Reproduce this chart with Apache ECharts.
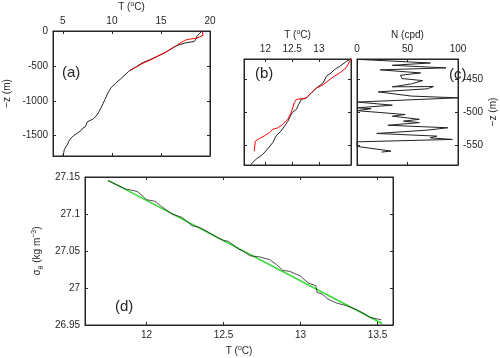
<!DOCTYPE html>
<html>
<head>
<meta charset="utf-8">
<script src="https://cdn.jsdelivr.net/npm/echarts@6/dist/echarts.min.js"></script>
<style>
  html, body { margin: 0; padding: 0; background: #fff; }
  #main { width: 500px; height: 358px; }
</style>
</head>
<body>
<div id="main"></div>
<script>
// panel (a): full profile, T vs -z
var aBlackT = [5.0, 5.1, 5.15, 5.3, 5.35, 5.5, 5.6, 5.75, 5.85, 6.1, 6.2, 6.5, 6.6, 6.9, 7.05, 7.3, 7.5, 7.8, 8.1, 8.3, 8.5, 8.7, 8.9, 9.1, 9.3, 9.6, 9.9, 10.4, 11.0, 11.8, 12.5, 13.05, 13.8, 14.6, 15.4, 16.2, 16.8, 17.5, 18.4, 18.6, 18.65, 18.9, 19.2];
var aBlackZ = [-1785, -1740, -1700, -1690, -1650, -1620, -1580, -1570, -1530, -1500, -1480, -1460, -1440, -1420, -1390, -1370, -1300, -1280, -1260, -1241, -1200, -1150, -1100, -1040, -980, -886, -815, -744, -673, -568, -510, -460, -415, -365, -310, -240, -200, -170, -150, -110, -80, -40, 0];
var aRedT = [11.85, 12.5, 13.2, 14.0, 14.6, 15.3, 15.9, 16.5, 17.0, 17.5, 18.0, 18.6, 19.3, 19.2];
var aRedZ = [-565, -515, -460, -410, -365, -318, -270, -215, -170, -130, -115, -105, -60, 0];

// panel (b): zoom of T between 420 and 580 m
var bBlackT = [11.73, 11.83, 11.95, 12.04, 12.14, 12.2, 12.29, 12.36, 12.42, 12.45, 12.5, 12.58, 12.62, 12.67, 12.76, 12.86, 12.95, 13.08, 13.14, 13.23, 13.29, 13.39, 13.51, 13.59];
var bBlackZ = [-579, -571, -564, -556, -546, -536, -529, -521, -514, -509, -501, -496, -489, -481, -479, -471, -464, -456, -446, -441, -436, -431, -424, -420];
var bRedT = [11.79, 11.81, 11.89, 11.98, 12.08, 12.14, 12.23, 12.32, 12.42, 12.48, 12.51, 12.54, 12.58, 12.67, 12.76, 12.86, 12.95, 13.08, 13.2, 13.29, 13.39, 13.51, 13.6];
var bRedZ = [-559, -544, -540, -536, -531, -526, -524, -519, -511, -501, -494, -486, -481, -480, -479, -471, -464, -459, -451, -446, -441, -433, -420];

// panel (c): buoyancy frequency
var cN = [0.3, 72.6, 35, 88, 23, 63, 43, 44.6, 65, 54, 35, 75.7, 69.5, 21, 54, 100, 0.3, 0, 35, 0, 14, 0, 0, 47.7, 35, 61.7, 46, 61.7, 30.6, 89.8, 69.5, 19.6, 79, 72.6, 94.4, 0, 0, 33.7, 24.3];
var cZ = [-420.5, -426, -429.5, -433.4, -436.4, -441, -444.6, -449.5, -452.6, -457.5, -462, -461.6, -465, -469.6, -476, -478.6, -485, -487.5, -489.7, -493.7, -495, -498, -498.8, -503.8, -506.3, -511, -513.8, -516, -520, -523.8, -527.4, -532.4, -536.4, -539, -541.4, -545, -552, -559, -560.5];

// panel (d): sigma_theta vs T and linear fit
var dT = [11.75, 11.864, 11.94, 12.0, 12.058, 12.09, 12.166, 12.23, 12.295, 12.338, 12.392, 12.457, 12.5, 12.532, 12.597, 12.625, 12.672, 12.737, 12.8, 12.845, 12.884, 12.93, 12.995, 13.05, 13.099, 13.107, 13.136, 13.178, 13.233, 13.297, 13.362, 13.405, 13.448, 13.523];
var dSigma = [27.145, 27.1338, 27.1305, 27.1193, 27.117, 27.1112, 27.100, 27.0954, 27.0842, 27.0824, 27.0765, 27.0684, 27.0643, 27.063, 27.0527, 27.05, 27.0436, 27.0419, 27.0382, 27.0315, 27.0238, 27.0224, 27.0166, 27.0068, 27.0031, 26.994, 26.9923, 26.985, 26.9797, 26.9761, 26.9707, 26.9662, 26.9603, 26.9571];
var dFitT = [11.75, 13.53];
var dFitSigma = [27.1454, 26.952];

var aTicksX = [5, 10, 15, 20];
var aTicksY = [0, -500, -1000, -1500];
var bTicksX = [12, 12.5, 13];
var cTicksX = [0, 50, 100];
var bcTicksY = [-450, -500, -550];
var dTicksX = [12, 12.5, 13, 13.5];
var dTicksY = [26.95, 27, 27.05, 27.1, 27.15];

var FONT = 'Liberation Sans';
var INK = '#262626';

function zip(xs, ys) {
    return xs.map(function (x, i) { return [x, ys[i]]; });
}

// one axis of a boxed panel: ticks inside, labels optional
function axis(grid, pos, min, max, ticks, labels, name, nameGap, rotate) {
    var a = {
        type: 'value',
        gridIndex: grid,
        position: pos,
        min: min,
        max: max,
        splitLine: { show: false },
        axisLine: { show: true, onZero: false, lineStyle: { color: INK, width: 1 } },
        axisTick: { show: true, inside: true, length: 3, customValues: ticks, lineStyle: { color: INK } },
        axisLabel: {
            show: labels, customValues: ticks, color: INK, fontFamily: FONT, fontSize: 10, margin: 5,
            formatter: function (v) { return String(v); }
        }
    };
    if (name) {
        a.name = name;
        a.nameLocation = 'middle';
        a.nameGap = nameGap;
        a.nameRotate = rotate;
        a.nameTextStyle = {
            color: INK, fontFamily: FONT, fontSize: 10, lineHeight: 12,
            rich: {
                s: { fontSize: 7, verticalAlign: 'top', fontFamily: FONT, color: INK, lineHeight: 12 },
                u: { fontSize: 7, verticalAlign: 'bottom', fontFamily: FONT, color: INK, lineHeight: 14 }
            }
        };
    }
    return a;
}

function box(left, top, width, height) {
    return { left: left, top: top, width: width, height: height, show: true, borderColor: INK, borderWidth: 1, backgroundColor: 'transparent' };
}

var myChart = echarts.init(document.getElementById('main'), null, { renderer: 'canvas' });

var option = {
    animation: false,
    backgroundColor: '#fff',
    grid: [
        box(42, 29, 168, 127),
        box(244, 59, 107, 106),
        box(357, 59, 107, 106),
        box(85, 177, 308, 148)
    ],
    xAxis: [
        axis(0, 'top', 4, 20, aTicksX, true, 'T ({s|o}C)', 18),
        axis(0, 'bottom', 4, 20, aTicksX, false),
        axis(1, 'top', 11.6, 13.6, bTicksX, true, 'T ({s|o}C)', 18),
        axis(1, 'bottom', 11.6, 13.6, bTicksX, false),
        axis(2, 'top', 0, 100, cTicksX, true, 'N (cpd)', 18),
        axis(2, 'bottom', 0, 100, cTicksX, false),
        axis(3, 'bottom', 11.6, 13.6, dTicksX, true, 'T ({s|o}C)', 20),
        axis(3, 'top', 11.6, 13.6, dTicksX, false)
    ],
    yAxis: [
        axis(0, 'left', -1790, 0, aTicksY, true, '\u2212z (m)', 40, 90),
        axis(0, 'right', -1790, 0, aTicksY, false),
        axis(1, 'left', -580, -420, bcTicksY, false),
        axis(1, 'right', -580, -420, bcTicksY, false),
        axis(2, 'left', -580, -420, bcTicksY, false),
        axis(2, 'right', -580, -420, bcTicksY, true, '\u2212z (m)', 29, 90),
        axis(3, 'left', 26.95, 27.15, dTicksY, true, '\u03c3{u|\u03b8} (kg m{s|\u22123})', 40, 90),
        axis(3, 'right', 26.95, 27.15, dTicksY, false)
    ],
    graphic: [
        { type: 'text', left: 62, top: 65, style: { text: '(a)', font: '15px "Liberation Sans"', fill: INK } },
        { type: 'text', left: 255, top: 66, style: { text: '(b)', font: '15px "Liberation Sans"', fill: INK } },
        { type: 'text', left: 449, top: 67, style: { text: '(c)', font: '15px "Liberation Sans"', fill: INK } },
        { type: 'text', left: 115, top: 299, style: { text: '(d)', font: '15px "Liberation Sans"', fill: INK } }
    ],
    series: [
        { type: 'line', xAxisIndex: 0, yAxisIndex: 0, data: zip(aBlackT, aBlackZ), showSymbol: false, lineStyle: { color: '#222', width: 1 } },
        { type: 'line', xAxisIndex: 0, yAxisIndex: 0, data: zip(aRedT, aRedZ), showSymbol: false, lineStyle: { color: '#f00', width: 1 } },
        { type: 'line', xAxisIndex: 2, yAxisIndex: 2, data: zip(bBlackT, bBlackZ), showSymbol: false, lineStyle: { color: '#222', width: 1 } },
        { type: 'line', xAxisIndex: 2, yAxisIndex: 2, data: zip(bRedT, bRedZ), showSymbol: false, lineStyle: { color: '#f00', width: 1 } },
        { type: 'line', xAxisIndex: 4, yAxisIndex: 4, data: zip(cN, cZ), showSymbol: false, lineStyle: { color: '#222', width: 1 } },
        { type: 'line', xAxisIndex: 6, yAxisIndex: 6, data: zip(dFitT, dFitSigma), showSymbol: false, lineStyle: { color: '#33dd33', width: 1.5 } },
        { type: 'line', xAxisIndex: 6, yAxisIndex: 6, data: zip(dT, dSigma), showSymbol: false, lineStyle: { color: '#222', width: 0.8 } },
        // empty series so the opposite-side axes draw their inward ticks
        { type: 'line', xAxisIndex: 1, yAxisIndex: 1, data: [], silent: true },
        { type: 'line', xAxisIndex: 3, yAxisIndex: 3, data: [], silent: true },
        { type: 'line', xAxisIndex: 5, yAxisIndex: 5, data: [], silent: true },
        { type: 'line', xAxisIndex: 7, yAxisIndex: 7, data: [], silent: true }
    ]
};

myChart.setOption(option);
</script>
</body>
</html>
